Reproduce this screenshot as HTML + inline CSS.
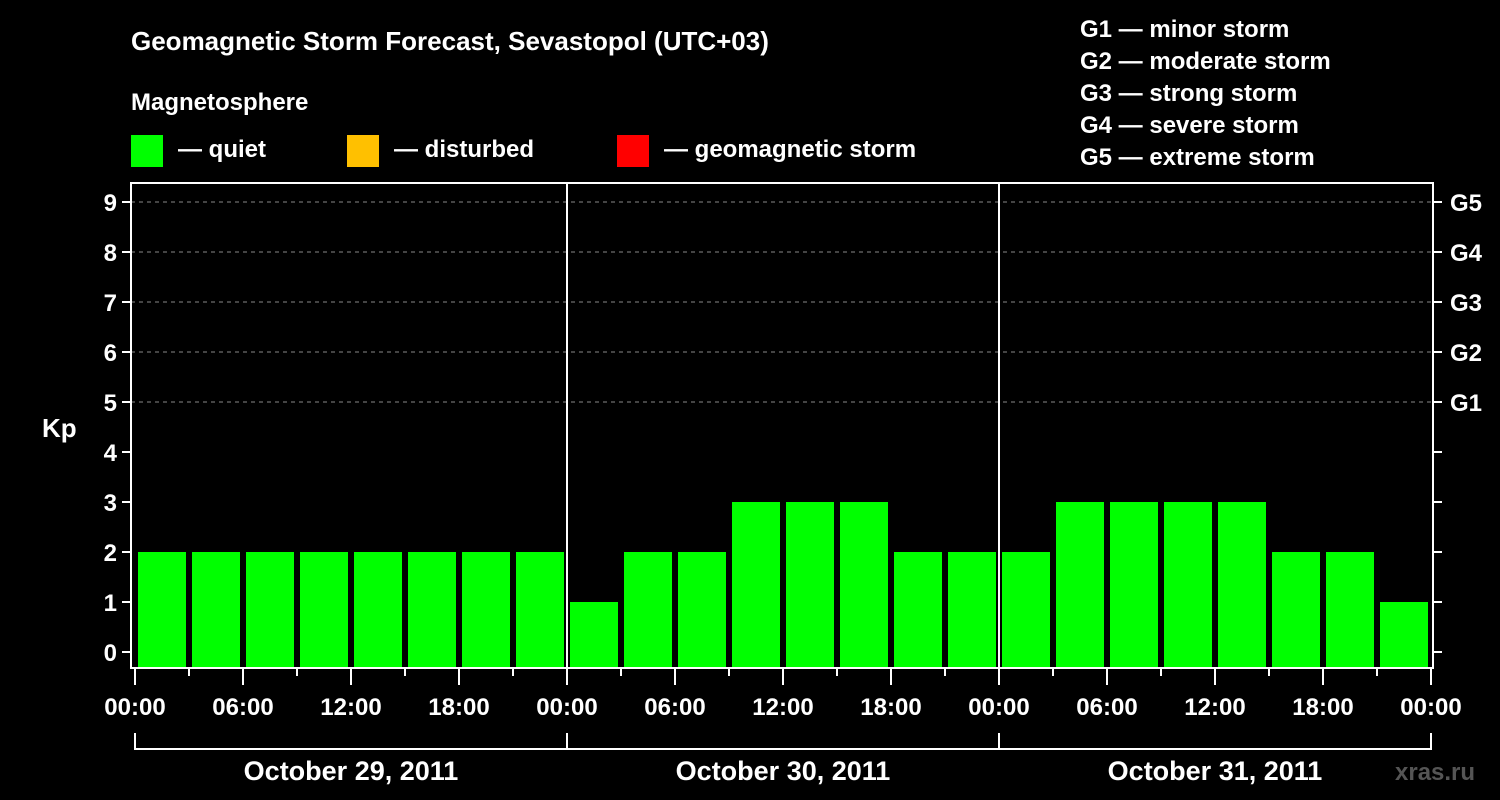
<!DOCTYPE html>
<html><head><meta charset="utf-8"><style>
html,body{margin:0;padding:0;background:#000;}
svg{display:block;font-family:"Liberation Sans",Arial,sans-serif;font-weight:bold;}
</style></head><body>
<svg id="chart" width="1500" height="800" xmlns="http://www.w3.org/2000/svg">
<rect width="1500" height="800" fill="#000"/>
<text x="131" y="50" fill="#fff" font-size="26">Geomagnetic Storm Forecast, Sevastopol (UTC+03)</text>
<text x="131" y="110" fill="#fff" font-size="24">Magnetosphere</text>
<g><rect x="131" y="135" width="32" height="32" fill="#00ff00"/><text x="178" y="157" fill="#fff" font-size="24">— quiet</text></g>
<g><rect x="347" y="135" width="32" height="32" fill="#ffc000"/><text x="394" y="157" fill="#fff" font-size="24">— disturbed</text></g>
<g><rect x="617" y="135" width="32" height="32" fill="#ff0000"/><text x="664" y="157" fill="#fff" font-size="24">— geomagnetic storm</text></g>
<g fill="#fff" font-size="24">
<text x="1080" y="37">G1 — minor storm</text>
<text x="1080" y="69">G2 — moderate storm</text>
<text x="1080" y="101">G3 — strong storm</text>
<text x="1080" y="133">G4 — severe storm</text>
<text x="1080" y="165">G5 — extreme storm</text>
</g>
<text x="42" y="437" fill="#fff" font-size="26">Kp</text>
<text x="1395" y="780" fill="#555" font-size="24">xras.ru</text>
<g id="grid"></g><g id="bars"></g><g id="axes"></g>
</svg>
<script>
const kpValues = [2,2,2,2,2,2,2,2, 1,2,2,3,3,3,2,2, 2,3,3,3,3,2,2,1];
const dayLabels = ["October 29, 2011","October 30, 2011","October 31, 2011"];
const hourLabels = ["00:00","06:00","12:00","18:00"];
const gLabels = ["G1","G2","G3","G4","G5"];
const kpTicks = [0,1,2,3,4,5,6,7,8,9];
const NS="http://www.w3.org/2000/svg";
const X0=135, DAYW=432, SLOT=54, Y0=652, KPH=50, TOP=183, BOT=668, LEFT=131, RIGHT=1433;
const xs = i => X0 + i*SLOT;
const ys = v => Y0 - v*KPH;
function mk(tag, attrs, parent){const e=document.createElementNS(NS,tag);for(const k in attrs)e.setAttribute(k,attrs[k]);parent.appendChild(e);return e;}
const grid=document.getElementById('grid'), bars=document.getElementById('bars'), axes=document.getElementById('axes');
// gridlines for G levels
for(let k=5;k<=9;k++){
  const l=mk('line',{x1:LEFT,x2:RIGHT,y1:ys(k),y2:ys(k),stroke:'#888','stroke-dasharray':'4,4','stroke-width':1},grid);
  
  
}
kpValues.forEach((v,i)=>{
  const r=mk('rect',{x:xs(i)+3,y:ys(v),width:SLOT-6,height:BOT-ys(v)-1,fill:v>=5?'#ff0000':(v>=4?'#ffc000':'#00ff00')},bars);
  
  
});
// frame
const fr=mk('rect',{x:LEFT,y:TOP,width:RIGHT-LEFT,height:BOT-TOP,fill:'none',stroke:'#fff','stroke-width':2},axes);


for(let d=1;d<dayLabels.length;d++){
  const l=mk('line',{x1:X0+d*DAYW,x2:X0+d*DAYW,y1:TOP,y2:BOT,stroke:'#fff','stroke-width':2},axes);
  
  
}
kpTicks.forEach(k=>{
  mk('line',{x1:LEFT-9,x2:LEFT,y1:ys(k),y2:ys(k),stroke:'#fff','stroke-width':2},axes);
  mk('line',{x1:RIGHT,x2:RIGHT+9,y1:ys(k),y2:ys(k),stroke:'#fff','stroke-width':2},axes);
  const t=mk('text',{x:117,y:ys(k)+9,fill:'#fff','font-size':24,'text-anchor':'end'},axes);
  t.textContent=k;
  
  
});
gLabels.forEach((g,i)=>{
  const t=mk('text',{x:1450,y:ys(5+i)+9,fill:'#fff','font-size':24},axes);
  t.textContent=g;
  
  
});
const nSlots=dayLabels.length*8;
for(let i=0;i<=nSlots;i++){
  const major=i%2===0;
  mk('line',{x1:xs(i),x2:xs(i),y1:BOT,y2:BOT+(major?17:8),stroke:'#fff','stroke-width':2},axes);
  if(major){
    const t=mk('text',{x:xs(i),y:715,fill:'#fff','font-size':24,'text-anchor':'middle'},axes);
    t.textContent=hourLabels[(i/2)%4];
    
    
  }
}
mk('path',{d:`M${X0} 733 V749 H${X0+DAYW*dayLabels.length} V733`,fill:'none',stroke:'#fff','stroke-width':2},axes);
dayLabels.forEach((d,i)=>{
  if(i>0) mk('line',{x1:X0+i*DAYW,x2:X0+i*DAYW,y1:733,y2:749,stroke:'#fff','stroke-width':2},axes);
  const t=mk('text',{x:X0+i*DAYW+DAYW/2,y:780,fill:'#fff','font-size':27,'text-anchor':'middle'},axes);
  t.textContent=d;
  
  
});
</script>
</body></html>
